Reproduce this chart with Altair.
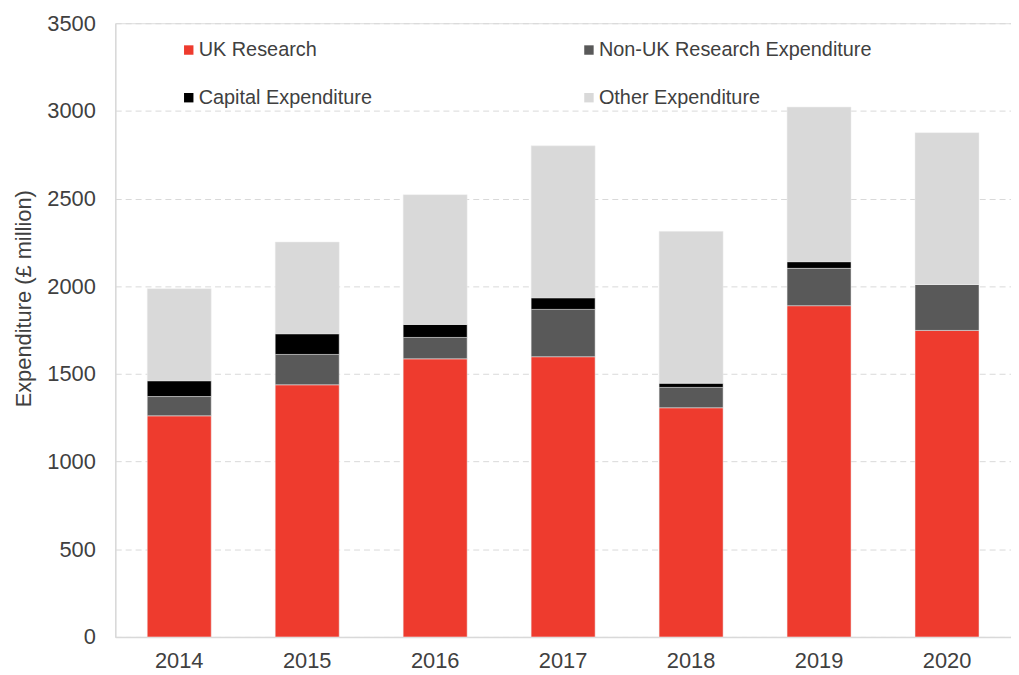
import altair as alt
import pandas as pd

years = ["2014", "2015", "2016", "2017", "2018", "2019", "2020"]
categories = ["UK Research", "Non-UK Research Expenditure", "Capital Expenditure", "Other Expenditure"]
uk_research = [1261, 1438, 1586, 1598, 1307, 1889, 1748]
non_uk_research = [110, 173, 122, 270, 116, 213, 262]
capital = [90, 118, 74, 66, 24, 38, 0]
other = [525, 523, 740, 867, 866, 882, 866]
colors = ["#EE3B2E", "#595959", "#000000", "#D9D9D9"]
y_ticks = [0, 500, 1000, 1500, 2000, 2500, 3000, 3500]

series = [uk_research, non_uk_research, capital, other]
rows = []
for ci, (cat, vals) in enumerate(zip(categories, series)):
    for y, v in zip(years, vals):
        rows.append({"year": y, "category": cat, "value": v, "idx": ci})
df = pd.DataFrame(rows)

FONT = "Liberation Sans"

chart = (
    alt.Chart(df)
    .mark_bar(stroke="#eeeeee", strokeWidth=0.5)
    .encode(
        x=alt.X(
            "year:N",
            sort=years,
            scale=alt.Scale(paddingInner=0.5, paddingOuter=0.25),
            axis=alt.Axis(
                title=None,
                labelAngle=0,
                labelFont=FONT,
                labelFontSize=22,
                labelColor="#404040",
                labelPadding=14,
                ticks=False,
                domainColor="#d9d9d9",
                domainWidth=1.5,
                grid=False,
            ),
        ),
        y=alt.Y(
            "value:Q",
            stack="zero",
            scale=alt.Scale(domain=[0, 3500], nice=False),
            axis=alt.Axis(
                title="Expenditure (£ million)",
                values=y_ticks,
                format="d",
                labelFont=FONT,
                labelFontSize=22,
                labelColor="#404040",
                labelPadding=20,
                ticks=False,
                domainColor="#d9d9d9",
                domainWidth=1.5,
                grid=True,
                gridColor="#d9d9d9",
                gridDash=[6, 4],
                gridWidth=1,
                titleFont=FONT,
                titleFontSize=22,
                titleFontWeight="normal",
                titleColor="#404040",
                titlePadding=11,
                titleY=277,
            ),
        ),
        color=alt.Color(
            "category:N",
            scale=alt.Scale(domain=categories, range=colors),
            legend=alt.Legend(
                title=None,
                orient="none",
                legendX=59,
                legendY=17,
                direction="horizontal",
                columns=2,
                columnPadding=203,
                rowPadding=28,
                symbolType="square",
                symbolSize=90,
                symbolStrokeWidth=0,
                symbolOffset=5,
                labelOffset=0,
                labelFont=FONT,
                labelFontSize=20,
                labelColor="#404040",
                labelLimit=400,
            ),
        ),
        order=alt.Order("idx:Q", sort="ascending"),
    )
    .properties(
        width=1010,
        height=666,
        padding={"left": 5, "top": 2, "right": 0, "bottom": 0},
        autosize=alt.AutoSizeParams(type="fit", contains="padding"),
    )
    .configure_view(stroke=None)
    .configure(background="white")
)

chart.save("out.html", embed_options={"renderer": "svg", "actions": False})
